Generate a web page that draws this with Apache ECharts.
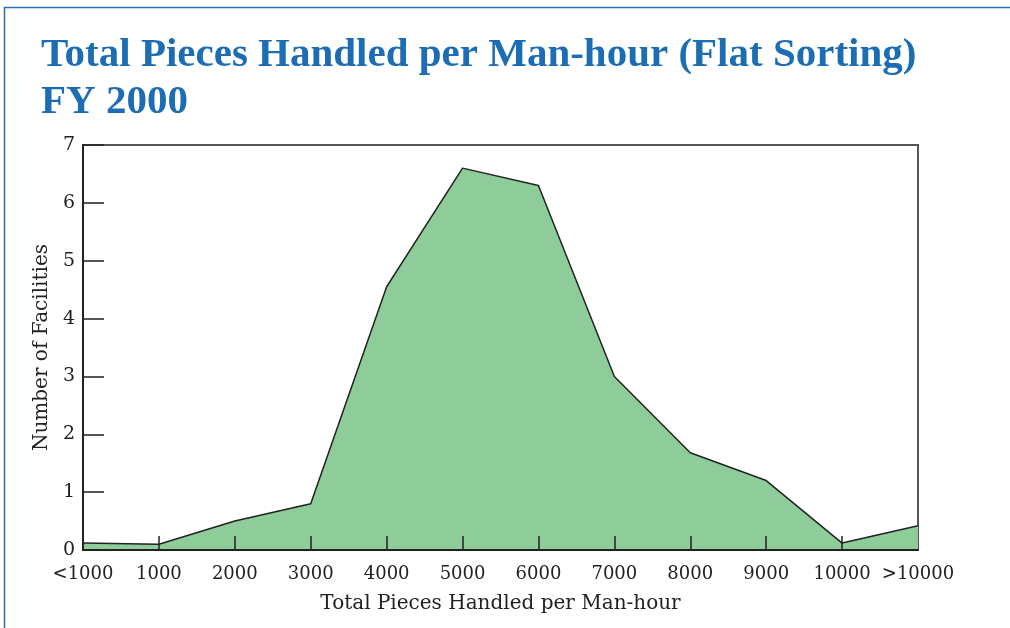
<!DOCTYPE html>
<html>
<head>
<meta charset="utf-8">
<script src="https://cdn.jsdelivr.net/npm/echarts@6/dist/echarts.min.js"></script>
<style>
  html, body { margin: 0; padding: 0; background: #fff; }
  #chart { width: 1010px; height: 628px; }
</style>
</head>
<body>
<div id="chart"></div>
<script>
// categories on the x axis
var categories = ['<1000', '1000', '2000', '3000', '4000', '5000', '6000', '7000', '8000', '9000', '10000', '>10000'];
// number of facilities per bucket
var facilities = [0.12, 0.1, 0.5, 0.8, 4.55, 6.6, 6.3, 3.0, 1.68, 1.2, 0.12, 0.42];

var myChart = echarts.init(document.getElementById('chart'));

var titleFont = '"Liberation Serif", serif';
var labelFont = '"DejaVu Serif", serif';

var options = {
  backgroundColor: '#fff',
  title: {
    text: 'Total Pieces Handled per Man-hour (Flat Sorting)\nFY 2000',
    left: 36,
    top: 27,
    textStyle: {
      fontFamily: titleFont,
      fontWeight: 'bold',
      fontSize: 41,
      lineHeight: 47,
      color: '#1c6db3'
    }
  },
  graphic: [
    {
      // thin blue frame on the page
      type: 'rect',
      shape: { x: 4.5, y: 7.5, width: 1100, height: 700 },
      style: { fill: null, stroke: '#2f6db3', lineWidth: 1.5 },
      silent: true
    }
  ],
  grid: {
    left: 83,
    right: 92,
    top: 145,
    bottom: 78,
    show: true,
    backgroundColor: '#fff',
    borderColor: '#555',
    borderWidth: 2
  },
  xAxis: {
    type: 'category',
    z: 10,
    boundaryGap: false,
    data: categories,
    name: 'Total Pieces Handled per Man-hour',
    nameLocation: 'middle',
    nameGap: 44,
    nameTextStyle: { fontFamily: labelFont, fontSize: 20, color: '#222' },
    axisLine: { lineStyle: { color: '#222', width: 2 } },
    axisTick: {
      inside: true,
      length: 14,
      interval: function (index) {
        return index > 0 && index < categories.length - 1;
      },
      lineStyle: { color: '#222', width: 1.5 }
    },
    axisLabel: {
      fontFamily: labelFont,
      fontSize: 18,
      color: '#222',
      margin: 15,
      interval: 0
    },
    splitLine: { show: false }
  },
  yAxis: {
    type: 'value',
    z: 10,
    min: 0,
    max: 7,
    interval: 1,
    name: 'Number of Facilities',
    nameLocation: 'middle',
    nameGap: 30,
    nameTextStyle: { fontFamily: labelFont, fontSize: 20, color: '#222' },
    axisLine: { show: true, lineStyle: { color: '#222', width: 2 } },
    axisTick: {
      show: true,
      inside: true,
      length: 21,
      lineStyle: { color: '#222', width: 1.5 }
    },
    axisLabel: {
      fontFamily: labelFont,
      fontSize: 19,
      color: '#222',
      margin: 8
    },
    splitLine: { show: false }
  },
  series: [
    {
      name: 'Facilities',
      type: 'line',
      z: 2,
      data: facilities,
      symbol: 'none',
      lineStyle: { color: '#222', width: 1.5 },
      areaStyle: { color: '#8ecd9a', opacity: 1 }
    }
  ]
};

myChart.setOption(options);
</script>
</body>
</html>
